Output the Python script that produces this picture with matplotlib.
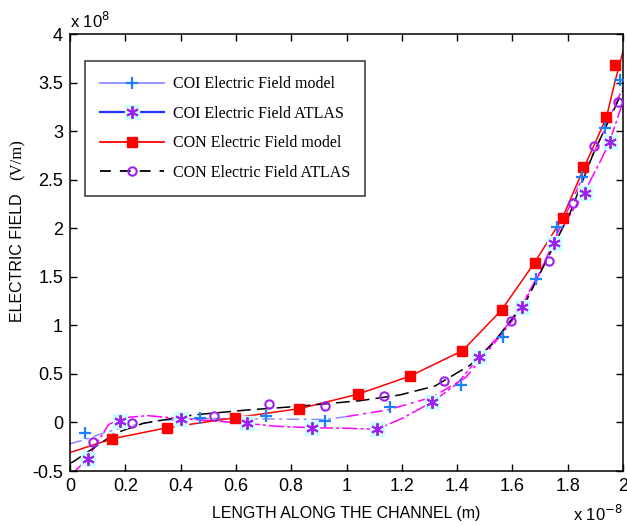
import matplotlib
matplotlib.use("Agg")
import matplotlib.pyplot as plt
from matplotlib.lines import Line2D

# ---- data (x in 1e-8 m, y in 1e8 V/m) ----
# COI Electric Field model: line (left part lavender, right part magenta) and '+' markers
coi_model_line_x = [0.0, 0.05, 0.12, 0.2, 0.32, 0.47, 0.6, 0.75, 0.92, 1.0, 1.15, 1.31, 1.43, 1.53, 1.6, 1.68, 1.76, 1.85, 1.93, 2.0]
coi_model_line_y = [-0.22, -0.18, -0.11, -0.045, 0.02, 0.04, 0.04, 0.035, 0.03, 0.06, 0.13, 0.26, 0.46, 0.8, 1.05, 1.42, 1.93, 2.5, 3.0, 3.45]
coi_model_mk_x = [0.054, 0.47, 0.71, 0.922, 1.157, 1.414, 1.565, 1.685, 1.76, 1.85, 1.935, 1.989]
coi_model_mk_y = [-0.112, 0.043, 0.065, 0.018, 0.162, 0.386, 0.883, 1.477, 2.01, 2.53, 3.03, 3.53]

# COI Electric Field ATLAS: magenta line and asterisk markers
coi_atlas_line_x = [0.018, 0.064, 0.1, 0.14, 0.2, 0.28, 0.4, 0.5, 0.64, 0.75, 0.88, 1.0, 1.11, 1.2, 1.31, 1.4, 1.48, 1.56, 1.63, 1.7, 1.75, 1.8, 1.86, 1.92, 1.95, 2.0]
coi_atlas_line_y = [-0.5, -0.376, -0.2, -0.02, 0.05, 0.07, 0.04, 0.02, -0.01, -0.04, -0.055, -0.06, -0.07, 0.04, 0.21, 0.4, 0.67, 0.92, 1.19, 1.55, 1.845, 2.1, 2.37, 2.7, 2.88, 3.3]
coi_atlas_mk_x = [0.064, 0.181, 0.4, 0.639, 0.876, 1.111, 1.311, 1.478, 1.634, 1.75, 1.863, 1.953]
coi_atlas_mk_y = [-0.376, 0.018, 0.036, -0.009, -0.054, -0.069, 0.21, 0.671, 1.186, 1.845, 2.366, 2.885]

# CON Electric Field model: red line and square markers
con_model_line_x = [0.0, 0.15, 0.35, 0.6, 0.83, 1.04, 1.23, 1.42, 1.56, 1.68, 1.78, 1.86, 1.94, 1.97, 2.0]
con_model_line_y = [-0.31, -0.17, -0.055, 0.05, 0.142, 0.29, 0.478, 0.74, 1.155, 1.645, 2.10, 2.63, 3.14, 3.5, 3.82]
con_model_mk_x = [0.151, 0.352, 0.597, 0.827, 1.043, 1.23, 1.418, 1.562, 1.68, 1.782, 1.857, 1.939, 1.971]
con_model_mk_y = [-0.174, -0.054, 0.049, 0.142, 0.29, 0.478, 0.737, 1.155, 1.645, 2.103, 2.628, 3.143, 3.68]

# CON Electric Field ATLAS: black dashed line and circle markers
con_atlas_line_x = [0.0, 0.012, 0.084, 0.163, 0.265, 0.446, 0.639, 0.808, 1.049, 1.193, 1.32, 1.447, 1.53, 1.652, 1.712, 1.808, 1.893, 2.0]
con_atlas_line_y = [-0.42, -0.404, -0.266, -0.112, -0.009, 0.077, 0.128, 0.162, 0.224, 0.283, 0.375, 0.59, 0.815, 1.261, 1.604, 2.154, 2.77, 3.42]
con_atlas_mk_x = [0.082, 0.223, 0.521, 0.72, 0.922, 1.136, 1.352, 1.595, 1.734, 1.82, 1.896, 1.983]
con_atlas_mk_y = [-0.204, -0.009, 0.07, 0.19, 0.172, 0.272, 0.425, 1.045, 1.663, 2.263, 2.85, 3.30]

labels = ["COI Electric Field model", "COI Electric Field ATLAS",
          "CON Electric Field model", "CON Electric Field ATLAS"]
x_ticks = [0, 0.2, 0.4, 0.6, 0.8, 1, 1.2, 1.4, 1.6, 1.8, 2]
x_ticklabels = ["0", "0.2", "0.4", "0.6", "0.8", "1", "1.2", "1.4", "1.6", "1.8", "2"]
y_ticks = [-0.5, 0, 0.5, 1, 1.5, 2, 2.5, 3, 3.5, 4]
y_ticklabels = ["-0.5", "0", "0.5", "1", "1.5", "2", "2.5", "3", "3.5", "4"]

LAV = "#8c8cff"
MAG = "#ff00ff"
BLUE_MK = "#1a80ff"
PURP = "#a020f0"
CYAN_BG = "#ccffff"

fig = plt.figure(figsize=(6.27, 5.26), dpi=100)
ax = fig.add_axes([70/627, 1-471/526, 553/627, 437/526])

# split COI model line into lavender (left) and magenta (right) parts
split = 9
ax.plot(coi_model_line_x[:split+1], coi_model_line_y[:split+1], color=LAV, lw=1.1,
        ls=(0, (8, 3, 2, 3)), zorder=2)
ax.plot(coi_model_line_x[split:], coi_model_line_y[split:], color=MAG, lw=1.1,
        ls=(0, (8, 3, 2, 3)), zorder=2)
ax.plot(coi_atlas_line_x, coi_atlas_line_y, color=MAG, lw=1.1, ls=(0, (10, 2, 2, 2)), zorder=2)
ax.plot(con_model_line_x, con_model_line_y, color="red", lw=1.1, zorder=2)
ax.plot(con_atlas_line_x, con_atlas_line_y, color="black", lw=1.1, ls=(0, (9, 4)), zorder=2)

# markers
ax.plot(coi_atlas_mk_x, coi_atlas_mk_y, ls="none", marker="s", ms=10, mfc=CYAN_BG, mec=CYAN_BG, zorder=3)
ax.plot(coi_atlas_mk_x, coi_atlas_mk_y, ls="none", marker=(6, 2, 0), ms=9, mec=PURP, mew=1.4, zorder=4)
ax.plot(con_model_mk_x, con_model_mk_y, ls="none", marker="s", ms=7, color="red", zorder=4)
ax.plot(con_atlas_mk_x, con_atlas_mk_y, ls="none", marker="o", ms=6, mfc="none", mec=PURP, mew=1.5, zorder=4)
ax.plot(coi_model_mk_x, coi_model_mk_y, ls="none", marker="+", ms=9, mec=BLUE_MK, mew=1.6, zorder=4)

ax.set_xlim(0, 2)
ax.set_ylim(-0.5, 4)
ax.set_xticks(x_ticks)
ax.set_xticklabels(x_ticklabels)
ax.set_yticks(y_ticks)
ax.set_yticklabels(y_ticklabels)
ax.tick_params(direction="in", top=True, right=True, length=5, width=1,
               labelsize=13, pad=5)
for t in ax.get_xticklabels() + ax.get_yticklabels():
    t.set_fontfamily("Liberation Sans")
for s in ax.spines.values():
    s.set_linewidth(1.1)

ax.set_xlabel("LENGTH ALONG THE CHANNEL (m)", fontsize=11.5, family="Liberation Sans", labelpad=8)
fig.text(18/627, 1-258/526, "ELECTRIC FIELD", rotation=90, ha="center", va="center",
         fontsize=11.5, family="Liberation Sans")
fig.text(18/627, 1-160/526, "(V/m)", rotation=90, ha="center", va="center",
         fontsize=12, family="Liberation Serif")
fig.text(70/627, 1-28/526, r"x 10$^{8}$", ha="left", va="baseline",
         fontsize=12, family="Liberation Sans")
fig.text(623/627, 1-521/526, r"x 10$^{-8}$", ha="right", va="baseline",
         fontsize=12, family="Liberation Sans")

# legend
h1 = Line2D([], [], color=LAV, lw=1.3, marker="+", ms=9, mec=BLUE_MK, mew=1.6)
h2a = Line2D([], [], color="#2030ff", lw=1.6)
h2b = Line2D([], [], ls="none", marker="s", ms=10, mfc=CYAN_BG, mec=CYAN_BG)
h2c = Line2D([], [], ls="none", marker=(6, 2, 0), ms=9, mec=PURP, mew=1.4)
h3 = Line2D([], [], color="red", lw=1.3, marker="s", ms=7)
h4 = Line2D([], [], color="black", lw=1.3, ls=(0, (6, 5)), marker="o", ms=6, mfc="none", mec=PURP, mew=1.5)
leg = ax.legend([h1, (h2a, h2b, h2c), h3, h4], labels, loc="upper left",
                bbox_to_anchor=(85/627, 1-61/526), bbox_transform=fig.transFigure,
                borderaxespad=0, frameon=True, fancybox=False, edgecolor="black",
                prop={"family": "Liberation Serif", "size": 11.5},
                handlelength=4.0, handletextpad=0.55, labelspacing=0.85, borderpad=0.95)
leg.get_frame().set_linewidth(1.1)

fig.savefig("out.png", dpi=100)
